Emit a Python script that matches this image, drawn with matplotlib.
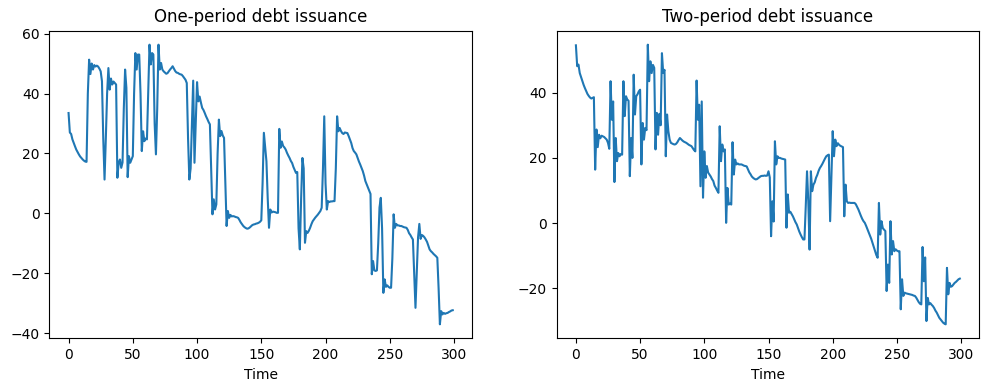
import matplotlib
matplotlib.use("Agg")
import matplotlib.pyplot as plt
import numpy as np

time = np.arange(300)

one_period = [
    33.5, 27, 26.5, 24.7, 23.5, 22.4, 21.3, 20.5, 19.7, 19,
    18.5, 18, 17.6, 17.3, 17.2, 40, 51.3, 46.5, 50, 48,
    49.5, 49, 49.3, 49, 48.3, 47.4, 44.1, 25, 11.3, 25,
    40, 48.5, 41.3, 45, 43, 44, 43.5, 43, 11.9, 17,
    18, 15.2, 17, 35, 48, 41.9, 12.1, 19.1, 16.9, 18,
    19.1, 40, 53.5, 48, 53, 53, 40, 20.8, 27.4, 24.1,
    25, 24.7, 40, 56.3, 49.7, 53.5, 53, 30, 19.7, 35,
    56.3, 48, 50.2, 48, 47.4, 47, 46.6, 46.8, 47.4, 48,
    48.5, 49.1, 48.3, 47.5, 47, 46.9, 46.6, 46.4, 46.3, 45.8,
    45.2, 44.6, 43.5, 25, 11.3, 15, 30, 44.3, 16.9, 30,
    43.8, 37.4, 39, 37, 35.2, 34.5, 33.5, 32.4, 31.5, 30.5,
    29.7, 15, -0.3, 4.7, 1.3, 3, 20, 31.3, 25.8, 27.5,
    26, 25.2, 10, -4.2, 0.8, -1.5, -0.5, -1, -0.9, -1,
    -1.2, -1.3, -1.5, -2.2, -3, -3.6, -4.2, -4.6, -4.9, -5.1,
    -5, -4.7, -4.3, -3.9, -3.7, -3.6, -3.4, -3.3, -3.1, -2.8,
    -2.3, 10, 26.9, 22, 17.4, 5, -4.8, 1.3, 0.3, 0.6,
    0.5, 0.4, 0.2, 0.2, 28.2, 21.9, 24, 22.5, 22, 21.3,
    20.2, 19.3, 18.5, 17.5, 16.8, 15.5, 14.5, 13.5, 13.8, -5,
    -12, 5, 18.5, 15, -9.8, -5.9, -6.5, -5.8, -4.8, -3.6,
    -2.6, -2, -1.4, -0.9, -0.4, 0.2, 0.8, 1.9, 15, 32.4,
    10, 1.3, 4.1, 3.8, 4, 4, 4.1, 4.1, 15, 32.4,
    27.4, 28.5, 27.5, 26.8, 26.5, 27, 26.9, 26.8, 25.8, 24.7,
    23.5, 21.8, 20.8, 20.3, 19.7, 18.5, 17.3, 16.3, 15.2, 14.1,
    12.6, 10.8, 9.7, 8.6, 7.4, 6.5, -20.3, -15.9, -19, -19.2,
    -19, -10, 2, 5.2, -5, -26.5, -22, -24.5, -24, -24.5,
    -24.8, -24.8, -15, -0.3, -4.8, -3.5, -4, -4, -4.2, -4.2,
    -4.4, -4.6, -4.7, -4.8, -5.5, -6.6, -7.2, -8, -8.7, -20,
    -31.5, -20, -8, -3.5, -8.5, -7.2, -7.5, -8, -8.7, -9.5,
    -10.8, -12, -12.6, -13, -13.5, -13.9, -14.3, -14.8, -25, -37,
    -32.6, -33.7, -33.2, -33.5, -33.3, -33.2, -32.9, -32.7, -32.4, -32.3,
]

two_period = [
    54.5, 48.1, 48.6, 46, 44.8, 43.5, 42.4, 41.4, 40.5, 39.6,
    39, 38.5, 38.2, 38.4, 38.6, 16.4, 28.7, 23.3, 27.1, 26,
    26.8, 26.6, 26.4, 26, 25.6, 24.6, 22.8, 43.5, 31.7, 37.3,
    12.6, 26.1, 19, 21.5, 20.5, 21.2, 21, 43.5, 32.8, 38.9,
    37.9, 37.5, 14.4, 26.1, 20, 45.5, 33.3, 38.9, 39.5, 40.4,
    40.9, 18, 30.7, 25.6, 29.2, 28.5, 54.7, 43.5, 49.6, 46,
    48.5, 47.6, 22.6, 33.8, 27.1, 33.5, 30, 52.1, 46, 47,
    20.5, 33.3, 28.2, 25.6, 24.6, 24.4, 24.2, 24.1, 24.3, 24.8,
    25.5, 26.1, 25.7, 25.3, 25, 24.8, 24.6, 24.3, 24, 23.8,
    23.6, 23, 22.4, 22, 43.7, 31.7, 36.3, 11.3, 37.3, 7.8,
    22, 13.9, 17.5, 15.5, 14.9, 14.3, 13.5, 12.9, 11.5, 10.8,
    10, 9.3, 29.7, 19, 24.1, 22, 22.6, 0.1, 10.8, 5.7,
    6, 5.7, 24.8, 14.9, 19.5, 18, 18.3, 18, 18, 18,
    17.8, 17.6, 17.5, 17.4, 16.5, 15.6, 15, 14.3, 13.9, 13.6,
    13.4, 13.5, 13.8, 14.1, 14.4, 14.5, 14.5, 14.6, 14.5, 14.6,
    15.9, 14, -4, 6.7, 0.5, 25.1, 18, 20.5, 20, 20,
    19.8, 19.7, 19.6, 19.5, -1.4, 8.8, 3.2, 3.5, 2.8, 2.1,
    1.2, 0.3, -0.4, -1.5, -2.6, -3.5, -4.3, -5, -5, 5,
    15.9, 6.7, -8.1, 15.9, 9.8, 11.8, 12.5, 13.9, 14.8, 16,
    16.9, 17.5, 18.2, 19, 19.8, 20.5, 20.8, 21, 0.6, 14,
    28.2, 20.5, 25.6, 23.6, 24.5, 24, 23.7, 23.5, 23.3, 2.1,
    11.8, 6.7, 6.2, 6.3, 6.2, 6.2, 6.2, 6.2, 5.8, 5,
    4.2, 3.2, 2.2, 1.3, 0.6, 0.1, -0.8, -1.8, -2.8, -3.8,
    -4.8, -6, -7.3, -8.6, -9.8, -10.6, 6.2, -3.5, 0.6, -1.5,
    -2, -2.4, -20.8, -12.7, -18.3, 0.6, -9.6, -5.5, -8.6, -8,
    -8.4, -8.6, -8.6, -26.4, -17.2, -22.3, -21.3, -21.5, -21.6, -21.7,
    -21.8, -21.9, -22, -22.2, -22.3, -22.8, -23.5, -24.2, -24.7, -24.9,
    -7.3, -17.8, -10.5, -30, -22.9, -24.9, -24.5, -25, -25.4, -26,
    -26.8, -27.4, -28.2, -29, -29.5, -30, -30.5, -30.8, -31, -13.7,
    -21.8, -18.3, -19.5, -19.3, -18.8, -18.3, -18, -17.6, -17.2, -17,
]

titles = ["One-period debt issuance", "Two-period debt issuance"]

fig = plt.figure(figsize=(9.89, 3.91), dpi=100)
ax1 = fig.add_axes([0.0499, 0.1348, 0.4273, 0.7867])
ax2 = fig.add_axes([0.5629, 0.1348, 0.4270, 0.7867])

for ax, series, title in zip([ax1, ax2], [one_period, two_period], titles):
    ax.plot(time, series, color="C0", linewidth=1.5)
    ax.set_title(title)
    ax.set_xlabel("Time")

fig.savefig("out.png", dpi=100)
